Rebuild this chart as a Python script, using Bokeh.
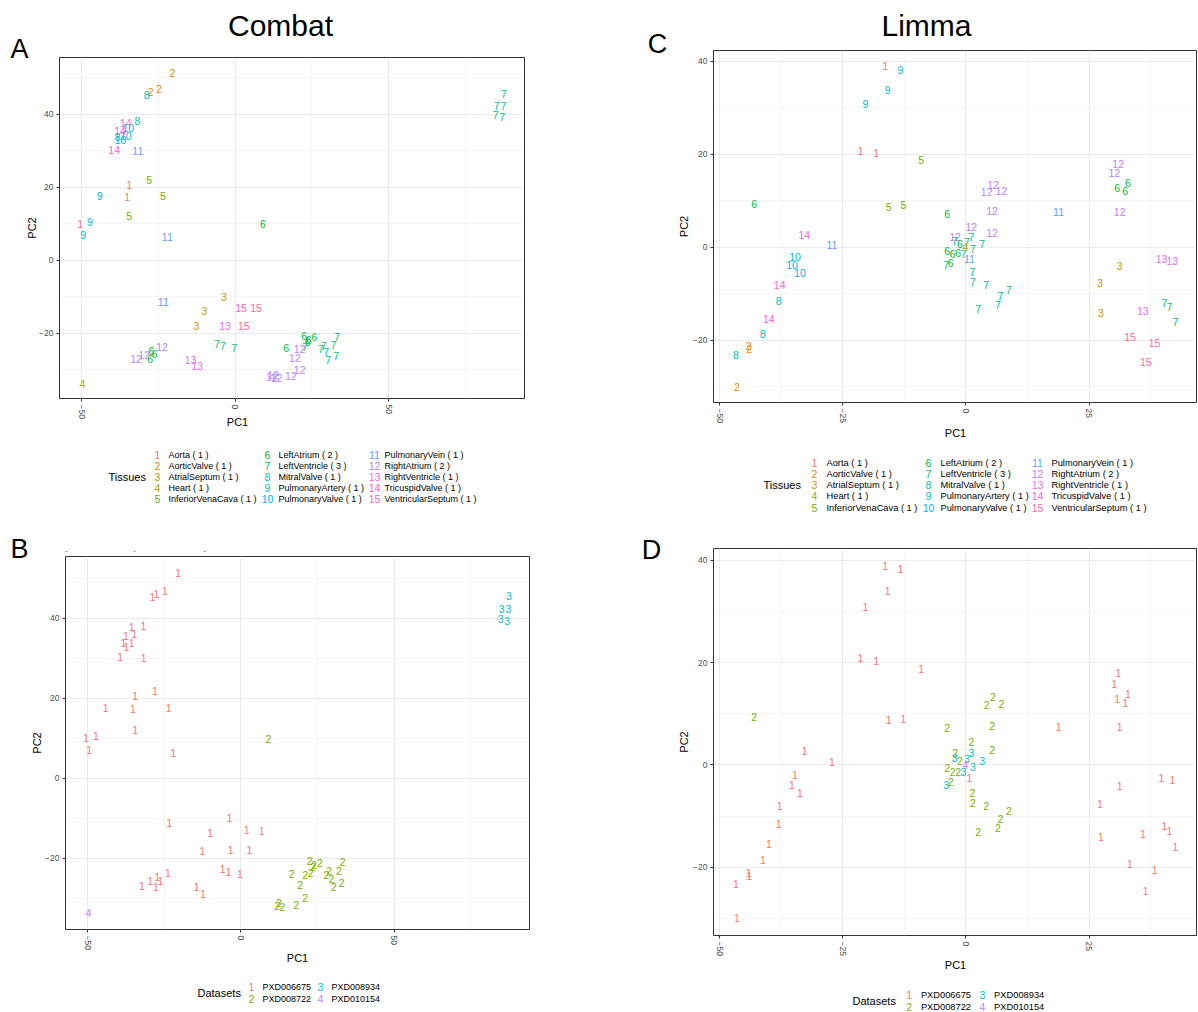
import math
from bokeh.plotting import figure
from bokeh.models import ColumnDataSource, FixedTicker, Range1d, GridBox
from bokeh.layouts import column, row
from bokeh.embed import file_html
from bokeh.resources import INLINE
from bokeh.core.properties import value

FONT = "Liberation Sans"

# ---------------- categories ----------------
tissue_names = ["Aorta ( 1 )", "AorticValve ( 1 )", "AtrialSeptum ( 1 )", "Heart ( 1 )",
                "InferiorVenaCava ( 1 )", "LeftAtrium ( 2 )", "LeftVentricle ( 3 )",
                "MitralValve ( 1 )", "PulmonaryArtery ( 1 )", "PulmonaryValve ( 1 )",
                "PulmonaryVein ( 1 )", "RightAtrium ( 2 )", "RightVentricle ( 1 )",
                "TricuspidValve ( 1 )", "VentricularSeptum ( 1 )"]
tissue_colors = ["#F8766D", "#E58700", "#C99800", "#A3A500", "#6BB100", "#00BA38",
                 "#00BF7D", "#00C0AF", "#00BCD8", "#00B0F6", "#619CFF", "#B983FF",
                 "#E76BF3", "#FD61D1", "#FF67A4"]
dataset_names = ["PXD006675", "PXD008722", "PXD008934", "PXD010154"]
dataset_colors = ["#F8766D", "#7CAE00", "#00BFC4", "#C77CFF"]

# ---------------- Combat (panels A, B) ----------------
combat_tissue = [2, 2, 2, 8, 14, 8, 14, 10, 8, 10, 10, 14, 11, 1, 5, 9, 1, 5, 5, 1, 9, 9, 11, 6,
                 11, 3, 3, 3, 15, 15, 13, 15, 12, 6, 12, 12, 6, 6, 13, 13, 7, 7, 7,
                 4,
                 6, 12, 12, 12, 12, 12, 12, 12, 6, 6, 6, 6, 7, 7, 7, 7, 7, 7, 7, 7,
                 7, 7, 7, 7, 7]
combat_dataset = [1] * 23 + [2] + [1] * 19 + [4] + [2] * 20 + [3] * 5
combat_pc1 = [-20.4, -27.5, -24.8, -28.8, -35.6, -31.8, -37.5, -34.8, -38.3, -35.6, -37.3, -39.4,
              -31.7, -34.5, -28.0, -44.1, -35.2, -23.5, -34.5, -50.5, -47.3, -49.5, -22.1, 9.0,
              -23.4, -3.7, -10.0, -12.6, 1.9, 6.8, -3.3, 2.8, -23.8, -27.3, -29.6, -32.3, -26.2,
              -27.7, -14.5, -12.4, -5.9, -4.0, -0.3,
              -49.7,
              16.6, 21.0, 19.4, 21.0, 18.1, 11.9, 12.4, 13.5, 22.5, 25.8, 23.9, 23.6, 22.8, 27.9,
              28.8, 29.6, 32.0, 33.2, 32.9, 30.3,
              87.5, 85.1, 87.3, 84.8, 86.9]
combat_pc2 = [51.2, 46.1, 46.8, 45.3, 37.7, 38.0, 35.5, 36.1, 33.8, 33.9, 32.8, 30.3,
              30.0, 20.5, 21.9, 17.5, 17.3, 17.6, 12.0, 10.0, 10.5, 7.0, 6.4, 9.9,
              -11.3, -10.0, -13.8, -18.1, -13.0, -13.1, -18.0, -17.9, -23.8, -24.7, -25.8, -27.0,
              -25.7, -27.1, -27.2, -28.9, -22.8, -23.5, -24.0,
              -33.8,
              -24.0, -24.3, -26.8, -30.0, -31.7, -31.9, -31.3, -32.3, -20.8, -21.1, -21.7, -22.3,
              -23.7, -24.2, -23.3, -25.2, -23.2, -21.0, -26.2, -27.3,
              45.6, 42.3, 42.2, 39.7, 39.2]

# ---------------- Limma (panels C, D) ----------------
limma_tissue = [1, 9, 9, 9, 1, 1, 5, 12, 12, 6, 6, 6, 12, 12, 12, 6, 5, 5, 6, 12, 11, 12, 12, 12,
                14, 12, 7, 7, 6, 7, 4, 7, 7, 11, 6, 6, 6, 7, 11, 7, 6, 10, 10, 10,
                7, 7, 7, 7, 7, 7, 7, 14, 8, 14, 8, 2, 2, 8, 2, 3, 3, 3, 13, 13, 13,
                7, 7, 7, 15, 15, 15]
limma_dataset = [1, 1, 1, 1, 1, 1, 1, 1, 1, 1, 1, 1, 2, 2, 2, 2, 1, 1, 2, 2, 1, 1, 2, 2,
                 1, 2, 3, 3, 2, 3, 4, 3, 3, 1, 2, 2, 2, 3, 1, 3, 2, 1, 1, 1,
                 2, 2, 2, 2, 2, 2, 2, 1, 1, 1, 1, 1, 1, 1, 1, 1, 1, 1, 1, 1, 1,
                 1, 1, 1, 1, 1, 1]
limma_pc1 = [-16.4, -13.3, -15.9, -20.4, -21.4, -18.2, -9.1, 30.9, 30.1, 32.9, 30.7, 32.3,
             5.5, 4.2, 7.2, -43.0, -15.7, -12.7, -3.8, 5.3, 18.8, 31.2, 1.1, 5.3,
             -32.8, -2.2, 1.1, -2.3, -1.2, 0.2, -0.1, 1.4, 3.3, -27.2, -3.8, -2.7, -1.6, -0.5,
             0.7, -4.0, -3.1, -34.7, -35.3, -33.7,
             1.3, 1.4, 4.1, 8.7, 7.0, 6.5, 2.5, -37.8, -38.0, -40.0, -41.2, -44.1, -44.0, -46.7,
             -46.5, 31.2, 27.2, 27.4, 39.7, 41.9, 35.9,
             40.3, 41.3, 42.5, 33.3, 38.3, 36.5]
limma_pc2 = [38.9, 38.2, 33.9, 30.8, 20.8, 20.3, 18.8, 17.9, 15.9, 13.8, 12.8, 12.1,
             13.3, 11.8, 12.0, 9.3, 8.7, 9.0, 7.2, 7.7, 7.5, 7.5, 4.4, 3.0,
             2.7, 2.3, 2.3, 1.4, 0.7, 1.1, 0.0, -0.4, 0.7, 0.6, -0.7, -1.4, -1.3, -1.4,
             -2.5, -3.9, -3.4, -2.0, -3.9, -5.5,
             -5.4, -7.5, -8.0, -9.1, -10.5, -12.4, -13.2, -8.1, -11.6, -15.5, -18.6, -21.2, -21.8,
             -23.2, -30.0, -4.1, -7.6, -14.1, -2.5, -3.0, -13.6,
             -12.0, -12.9, -16.1, -19.3, -20.5, -24.6]

combat_xticks, combat_xminor = [-50, 0, 50], [-75, -25, 25, 75]
combat_yticks, combat_yminor = [-20, 0, 20, 40], [-30, -10, 10, 30, 50]
limma_xticks, limma_xminor = [-50, -25, 0, 25], [-37.5, -12.5, 12.5, 37.5]
limma_yticks, limma_yminor = [-20, 0, 20, 40], [-30, -10, 10, 30]


def fmt(t):
    return ("\u2212" + str(abs(t))) if t < 0 else str(t)


def make_panel(pc1, pc2, codes, palette, xr, yr, xt, xm, yt, ym,
               width, height, borders, glyph_size):
    bl, br, bt, bb = borders
    p = figure(width=width, height=height, output_backend="svg", toolbar_location=None,
               x_range=Range1d(*xr), y_range=Range1d(*yr),
               min_border_left=bl, min_border_right=br, min_border_top=bt, min_border_bottom=bb,
               background_fill_color="white", border_fill_color="white",
               outline_line_color="#333333", outline_line_width=1)
    xtick = FixedTicker(ticks=xt, minor_ticks=xm)
    ytick = FixedTicker(ticks=yt, minor_ticks=ym)
    p.xaxis.ticker = xtick
    p.yaxis.ticker = ytick
    p.xgrid.ticker = xtick
    p.ygrid.ticker = ytick
    for g in (p.xgrid[0], p.ygrid[0]):
        g.grid_line_color = "#EBEBEB"
        g.grid_line_width = 1.1
        g.minor_grid_line_color = "#EFEFEF"
        g.minor_grid_line_width = 0.6
    for ax in (p.xaxis[0], p.yaxis[0]):
        ax.axis_line_color = None
        ax.major_tick_line_color = "#333333"
        ax.major_tick_out = 3
        ax.major_tick_in = 0
        ax.minor_tick_line_color = None
        ax.major_label_text_font = FONT
        ax.major_label_text_font_size = "8.5px"
        ax.major_label_text_color = "#4D4D4D"
        ax.major_label_standoff = 2
    p.xaxis[0].major_label_orientation = "vertical"
    p.xaxis[0].major_label_overrides = {t: fmt(t) for t in xt}
    p.yaxis[0].major_label_overrides = {t: fmt(t) for t in yt}
    src = ColumnDataSource(dict(pc1=pc1, pc2=pc2, label=[str(c) for c in codes],
                                color=[palette[c - 1] for c in codes]))
    p.text(x="pc1", y="pc2", text="label", text_color="color", source=src,
           text_align="center", text_baseline="middle",
           text_font=value(FONT), text_font_size=glyph_size)
    return p


# ---------------- the four panels ----------------
pA = make_panel(combat_pc1, combat_pc2, combat_tissue, tissue_colors, (-57.2, 94.2), (-37.8, 55.5),
                combat_xticks, combat_xminor, combat_yticks, combat_yminor,
                598, 530, (59, 74, 57, 132), "10.5px")
pB = make_panel(combat_pc1, combat_pc2, combat_dataset, dataset_colors, (-57.2, 94.2), (-37.8, 55.4),
                combat_xticks, combat_xminor, combat_yticks, combat_yminor,
                598, 482, (65, 69, 26, 83), "10.5px")
pC = make_panel(limma_pc1, limma_pc2, limma_tissue, tissue_colors, (-51.24, 46.8), (-33.35, 42.3),
                limma_xticks, limma_xminor, limma_yticks, limma_yminor,
                600, 530, (115, 2, 50, 128), "10.5px")
pD = make_panel(limma_pc1, limma_pc2, limma_dataset, dataset_colors, (-51.24, 46.8), (-33.35, 42.3),
                limma_xticks, limma_xminor, limma_yticks, limma_yminor,
                600, 482, (115, 2, 18, 77), "10.5px")

# each panel wrapped on its own so that the row does not align their frames
base = column(row(column(pA), column(pC)), row(column(pB), column(pD)))

# ---------------- overlay with titles, letters, axis titles and legends ----------------
ov = figure(width=1198, height=1012, x_range=Range1d(0, 1198), y_range=Range1d(1012, 0),
            output_backend="svg", toolbar_location=None, min_border=0,
            x_axis_location=None, y_axis_location=None, outline_line_color=None,
            background_fill_alpha=0, border_fill_alpha=0)
ov.xgrid.grid_line_color = None
ov.ygrid.grid_line_color = None
ov.grid.visible = False

center_txt = dict(x=[], y=[], text=[], color=[], size=[])
left_txt = dict(x=[], y=[], text=[], color=[], size=[])
vert_txt = dict(x=[], y=[], text=[], color=[], size=[])


def put(store, x, y, text, size, color="black"):
    store["x"].append(x)
    store["y"].append(y)
    store["text"].append(text)
    store["color"].append(color)
    store["size"].append(size)


# panel titles and letters
put(center_txt, 280, 25, "Combat", "30px")
put(center_txt, 926, 25, "Limma", "30px")
put(center_txt, 19, 48, "A", "27px")
put(center_txt, 19, 548, "B", "27px")
put(center_txt, 657, 43, "C", "27px")
put(center_txt, 651, 549, "D", "27px")
# cut-off remnants of a caption above panel B
for dx in (66, 134, 204):
    put(center_txt, dx, 550, "-", "7px", "#333333")

# axis titles
for (cx, cy, vx, vy) in [(237, 421, 31, 227.5), (297, 957, 36, 742.5),
                         (955, 432, 683, 226), (955, 964, 683, 741.5)]:
    put(center_txt, cx, cy, "PC1", "11px")
    put(vert_txt, vx, vy, "PC2", "11px")


def tissue_legend(title_x, title_y, key_x, lab_x, rows, key_size, lab_size):
    put(left_txt, title_x, title_y, "Tissues", "11px")
    for i, name in enumerate(tissue_names):
        c, r = divmod(i, 5)
        put(center_txt, key_x[c], rows[r], str(i + 1), key_size, tissue_colors[i])
        put(left_txt, lab_x[c], rows[r], name, lab_size)


def dataset_legend(title_x, title_y, key_x, lab_x, rows, key_size, lab_size):
    put(left_txt, title_x, title_y, "Datasets", "11px")
    for i, name in enumerate(dataset_names):
        c, r = divmod(i, 2)
        put(center_txt, key_x[c], rows[r], str(i + 1), key_size, dataset_colors[i])
        put(left_txt, lab_x[c], rows[r], name, lab_size)


tissue_legend(108, 476, [157, 267, 374], [168, 278, 384], [454, 465, 476, 487, 498], "10.5px", "9px")
tissue_legend(763, 484, [814, 928, 1037], [826, 940, 1051], [462, 473.3, 484.5, 495.7, 507],
              "10.5px", "9.3px")
dataset_legend(197, 992, [251, 320], [262, 331], [986, 998], "10.5px", "9px")
dataset_legend(852, 1000, [908.6, 981.8], [920.4, 993.6], [994, 1006], "10.5px", "9.3px")

ov.text(x="x", y="y", text="text", text_color="color", text_font_size="size",
        source=ColumnDataSource(center_txt), text_align="center", text_baseline="middle",
        text_font=value(FONT))
ov.text(x="x", y="y", text="text", text_color="color", text_font_size="size",
        source=ColumnDataSource(left_txt), text_align="left", text_baseline="middle",
        text_font=value(FONT))
ov.text(x="x", y="y", text="text", text_color="color", text_font_size="size",
        source=ColumnDataSource(vert_txt), text_align="center", text_baseline="middle",
        angle=math.pi / 2, text_font=value(FONT))

layout = GridBox(children=[(base, 0, 0), (ov, 0, 0)])
open("out.html", "w").write(file_html(layout, INLINE))
